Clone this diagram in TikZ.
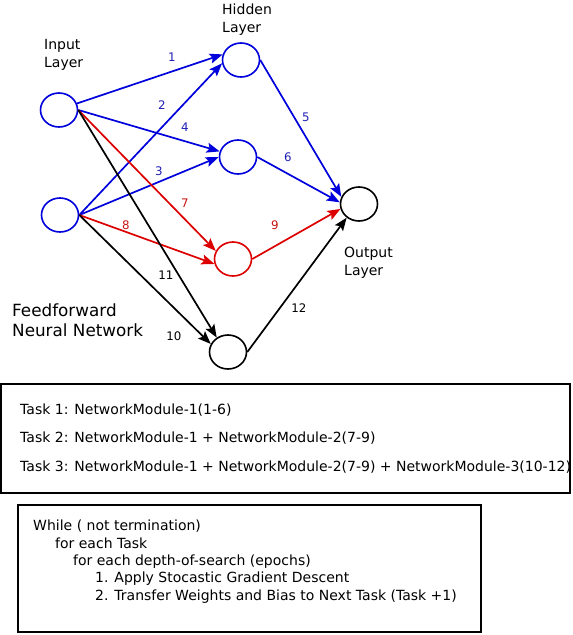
\documentclass[tikz,border=0pt]{standalone}
\usepackage{fontspec}
\setmainfont{DejaVu Sans}
\usetikzlibrary{shapes.geometric,arrows.meta}
\definecolor{nnblue}{RGB}{0,0,220}
\definecolor{nnred}{RGB}{220,0,0}
\definecolor{lblblue}{RGB}{30,30,180}
\definecolor{lblred}{RGB}{200,20,20}
\begin{document}
\begin{tikzpicture}[x=1pt,y=-1pt,
  neuron/.style={ellipse,draw,line width=1.6pt,minimum width=37pt,minimum height=34pt,inner sep=0pt},
  conn/.style={line width=1.7pt,-{Stealth[length=13pt,width=10pt,inset=2.5pt]}},
  num/.style={font=\fontsize{11.8}{12}\selectfont,inner sep=0pt},
  lbl/.style={font=\fontsize{14}{17}\selectfont,anchor=base west,inner sep=0pt,align=left},
  txt/.style={font=\fontsize{14}{16}\selectfont,anchor=base west,inner sep=0pt},
  box/.style={draw,line width=2pt}]
\useasboundingbox (0,0) rectangle (573,635);
% neurons
\node[neuron,draw=nnblue] (in1) at (59,110) {};
\node[neuron,draw=nnblue] (in2) at (60,215) {};
\node[neuron,draw=nnblue] (h1) at (241,60) {};
\node[neuron,draw=nnblue] (h2) at (238,157) {};
\node[neuron,draw=nnred] (h3) at (233,259) {};
\node[neuron,draw=black] (h4) at (228,352) {};
\node[neuron,draw=black] (out) at (359,204) {};
% layer labels
\node[lbl] (lin) at (44,49) {Input};
\node[lbl] (lin2) at (44,67) {Layer};
\node[lbl] (lhid) at (222,14) {Hidden};
\node[lbl] (lhid2) at (222,32) {Layer};
\node[lbl] (lout) at (344,257) {Output};
\node[lbl] (lout2) at (344,275) {Layer};
\node[lbl,font=\fontsize{16.8}{20}\selectfont] (ff) at (12,316) {Feedforward};
\node[lbl,font=\fontsize{16.8}{20}\selectfont] (ff2) at (12,336) {Neural Network};
% connectors
\draw[conn,nnblue] (in1.20) -- (h1.163);
\draw[conn,nnblue] (in2.east) -- (h1.190);
\draw[conn,nnblue] (in1.east) -- (h2.163);
\draw[conn,nnblue] (in2.east) -- (h2.180);
\draw[conn,nnred] (in1.east) -- (h3.155);
\draw[conn,nnred] (in2.east) -- (h3.195);
\draw[conn,black] (in1.east) -- (h4.128);
\draw[conn,black] (in2.east) -- (h4.155);
\draw[conn,nnblue] (h1.east) -- (out.158);
\draw[conn,nnblue] (h2.east) -- (out.175);
\draw[conn,nnred] (h3.east) -- (out.195);
\draw[conn,black] (h4.east) -- (out.228);
% connector labels
\node[num,text=lblblue] (n1) at (172,57) {1};
\node[num,text=lblblue] (n2) at (162,105) {2};
\node[num,text=lblblue] (n4) at (185,127) {4};
\node[num,text=lblblue] (n3) at (159,171) {3};
\node[num,text=lblred] (n7) at (185,203) {7};
\node[num,text=lblred] (n8) at (126,225) {8};
\node[num,text=lblblue] (n5) at (306,117) {5};
\node[num,text=lblblue] (n6) at (288,157) {6};
\node[num,text=lblred] (n9) at (275,225) {9};
\node[num] (n11) at (166,275) {11};
\node[num] (n10) at (174,336) {10};
\node[num] (n12) at (299,308) {12};
% boxes
\draw[box] (1,384) rectangle (570,493);
\node[txt] (t1) at (20,414) {Task 1: NetworkModule-1(1-6)};
\node[txt] (t2) at (20,442) {Task 2: NetworkModule-1 + NetworkModule-2(7-9)};
\node[txt] (t3) at (20,471) {Task 3: NetworkModule-1 + NetworkModule-2(7-9) + NetworkModule-3(10-12)};
\draw[box] (18,505) rectangle (481,632);
\node[txt] (w1) at (33,530) {While ( not termination)};
\node[txt] (w2) at (55,548) {for each Task};
\node[txt] (w3) at (73,565) {for each depth-of-search (epochs)};
\node[txt] (w4) at (95,582) {1. Apply Stocastic Gradient Descent};
\node[txt] (w5) at (95,600) {2. Transfer Weights and Bias to Next Task (Task +1)};
\end{tikzpicture}
\end{document}
